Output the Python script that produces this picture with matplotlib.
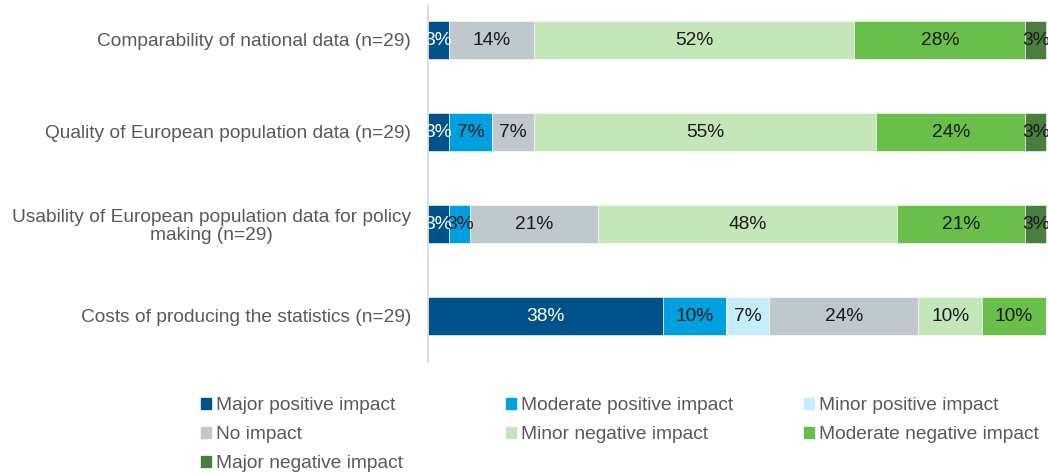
import numpy as np
import matplotlib.pyplot as plt
from matplotlib.patches import Patch

plt.rcParams['font.family'] = ['Liberation Sans', 'DejaVu Sans']

# categories (top to bottom)
categories = [
    "Comparability of national data (n=29)",
    "Quality of European population data (n=29)",
    "Usability of European population data for policy\nmaking (n=29)",
    "Costs of producing the statistics (n=29)",
]

series = [
    "Major positive impact",
    "Moderate positive impact",
    "Minor positive impact",
    "No impact",
    "Minor negative impact",
    "Moderate negative impact",
    "Major negative impact",
]

# shares in percent, one list per series (row order as categories)
major_pos = [3.4, 3.4, 3.4, 37.9]
moderate_pos = [0.0, 6.9, 3.4, 10.3]
minor_pos = [0.0, 0.0, 0.0, 6.9]
no_impact = [13.8, 6.9, 20.7, 24.1]
minor_neg = [51.7, 55.2, 48.3, 10.3]
moderate_neg = [27.6, 24.1, 20.7, 10.3]
major_neg = [3.4, 3.4, 3.4, 0.0]

values = [major_pos, moderate_pos, minor_pos, no_impact,
          minor_neg, moderate_neg, major_neg]

colors = ["#00538A", "#009FDF", "#C6EDFB", "#BFC9CD",
          "#C5E6B8", "#6ABF4B", "#4B7C40"]
label_colors = ["white", "#1a1a1a", "#1a1a1a", "#1a1a1a",
                "#1a1a1a", "#1a1a1a", "#1a1a1a"]

fs = 13.8
fig = plt.figure(figsize=(10.48, 4.73), dpi=100)
ax = fig.add_axes([428 / 1048, 111 / 473, 619 / 1048, 357 / 473])

y = np.arange(len(categories))
left = np.zeros(len(categories))
for vals, col, lc in zip(values, colors, label_colors):
    vals = np.array(vals)
    ax.barh(y, vals, left=left, height=0.41, color=col,
            edgecolor="white", linewidth=0.4)
    for yi, (l, v) in enumerate(zip(left, vals)):
        if v > 0:
            ax.text(l + v / 2, yi + 0.01, "{:.0f}%".format(v), ha="center",
                    va="center", fontsize=fs, color=lc)
    left += vals

ax.set_xlim(0, 100)
ax.set_ylim(3.5, -0.38)
ax.set_yticks(y)
ax.set_yticklabels(categories, fontsize=fs, color="#595959")
for t in ax.get_yticklabels():
    t.set_multialignment("center")
    t.set_linespacing(1.05)
ax.tick_params(axis="y", length=0, pad=12)
ax.set_xticks([])
for s in ["top", "right", "bottom"]:
    ax.spines[s].set_visible(False)
ax.spines["left"].set_color("#D9D9D9")
ax.spines["left"].set_linewidth(1.2)

# legend, three columns filled row by row
handles = [Patch(color=c) for c in colors]
columns = [[0, 3, 6], [1, 4], [2, 5]]
col_x = [201, 506, 804]
for idx, cx in zip(columns, col_x):
    fig.legend([handles[i] for i in idx], [series[i] for i in idx],
               loc="upper left", bbox_to_anchor=(cx / 1048, 1 - 397 / 473),
               frameon=False, fontsize=fs, labelcolor="#595959",
               handlelength=0.5, handleheight=0.5, handletextpad=0.3,
               labelspacing=0.63, borderpad=0, borderaxespad=0)

fig.savefig("out.png", dpi=100)
